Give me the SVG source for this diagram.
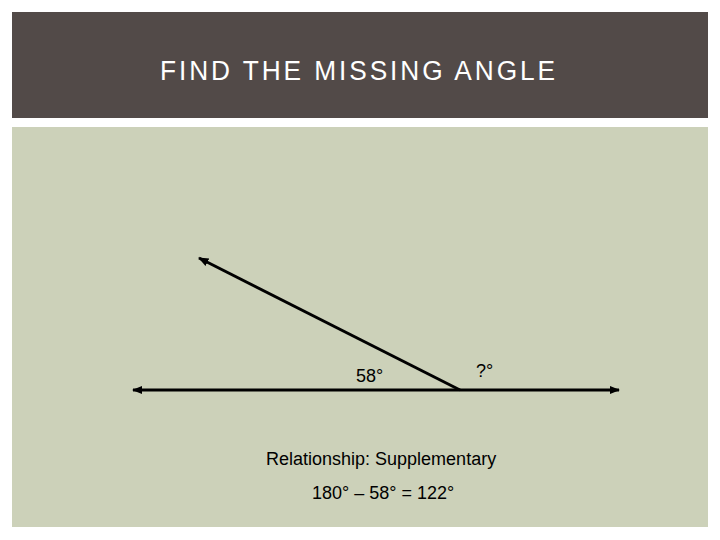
<svg xmlns="http://www.w3.org/2000/svg" width="720" height="540" viewBox="0 0 720 540">
<style>
.lbl{font-family:"Liberation Sans",Arial,sans-serif;font-size:18px;fill:#000}
.ln{stroke:#000;stroke-width:3;fill:none}
</style>
<defs>
<marker id="ah" viewBox="0 0 10 10" refX="9" refY="5" markerWidth="3.5" markerHeight="3.5" orient="auto-start-reverse" markerUnits="strokeWidth">
<path d="M0,1 L10,5 L0,9 Z" fill="#000"/>
</marker>
</defs>
<rect x="0" y="0" width="720" height="540" fill="#fff"/>
<g id="header">
<rect x="12" y="12" width="696" height="106" fill="#524a48"/>
<text x="160" y="80" font-family="Liberation Sans,Arial,sans-serif" font-size="27" letter-spacing="3" textLength="398" lengthAdjust="spacingAndGlyphs" fill="#fff">FIND THE MISSING ANGLE</text>
</g>
<g id="panel">
<rect x="12" y="127" width="696" height="400" fill="#ccd1b9"/>
</g>
<g id="connectors">
<line class="ln" x1="133" y1="390" x2="619" y2="390" marker-start="url(#ah)" marker-end="url(#ah)"/>
<line class="ln" x1="460" y1="390" x2="199" y2="258" marker-end="url(#ah)"/>
</g>
<g id="labels">
<text class="lbl" x="356" y="382">58°</text>
<text class="lbl" x="476" y="377">?°</text>
<text class="lbl" x="266" y="465">Relationship: Supplementary</text>
<text class="lbl" x="312" y="499">180° – 58° = 122°</text>
</g>
</svg>
